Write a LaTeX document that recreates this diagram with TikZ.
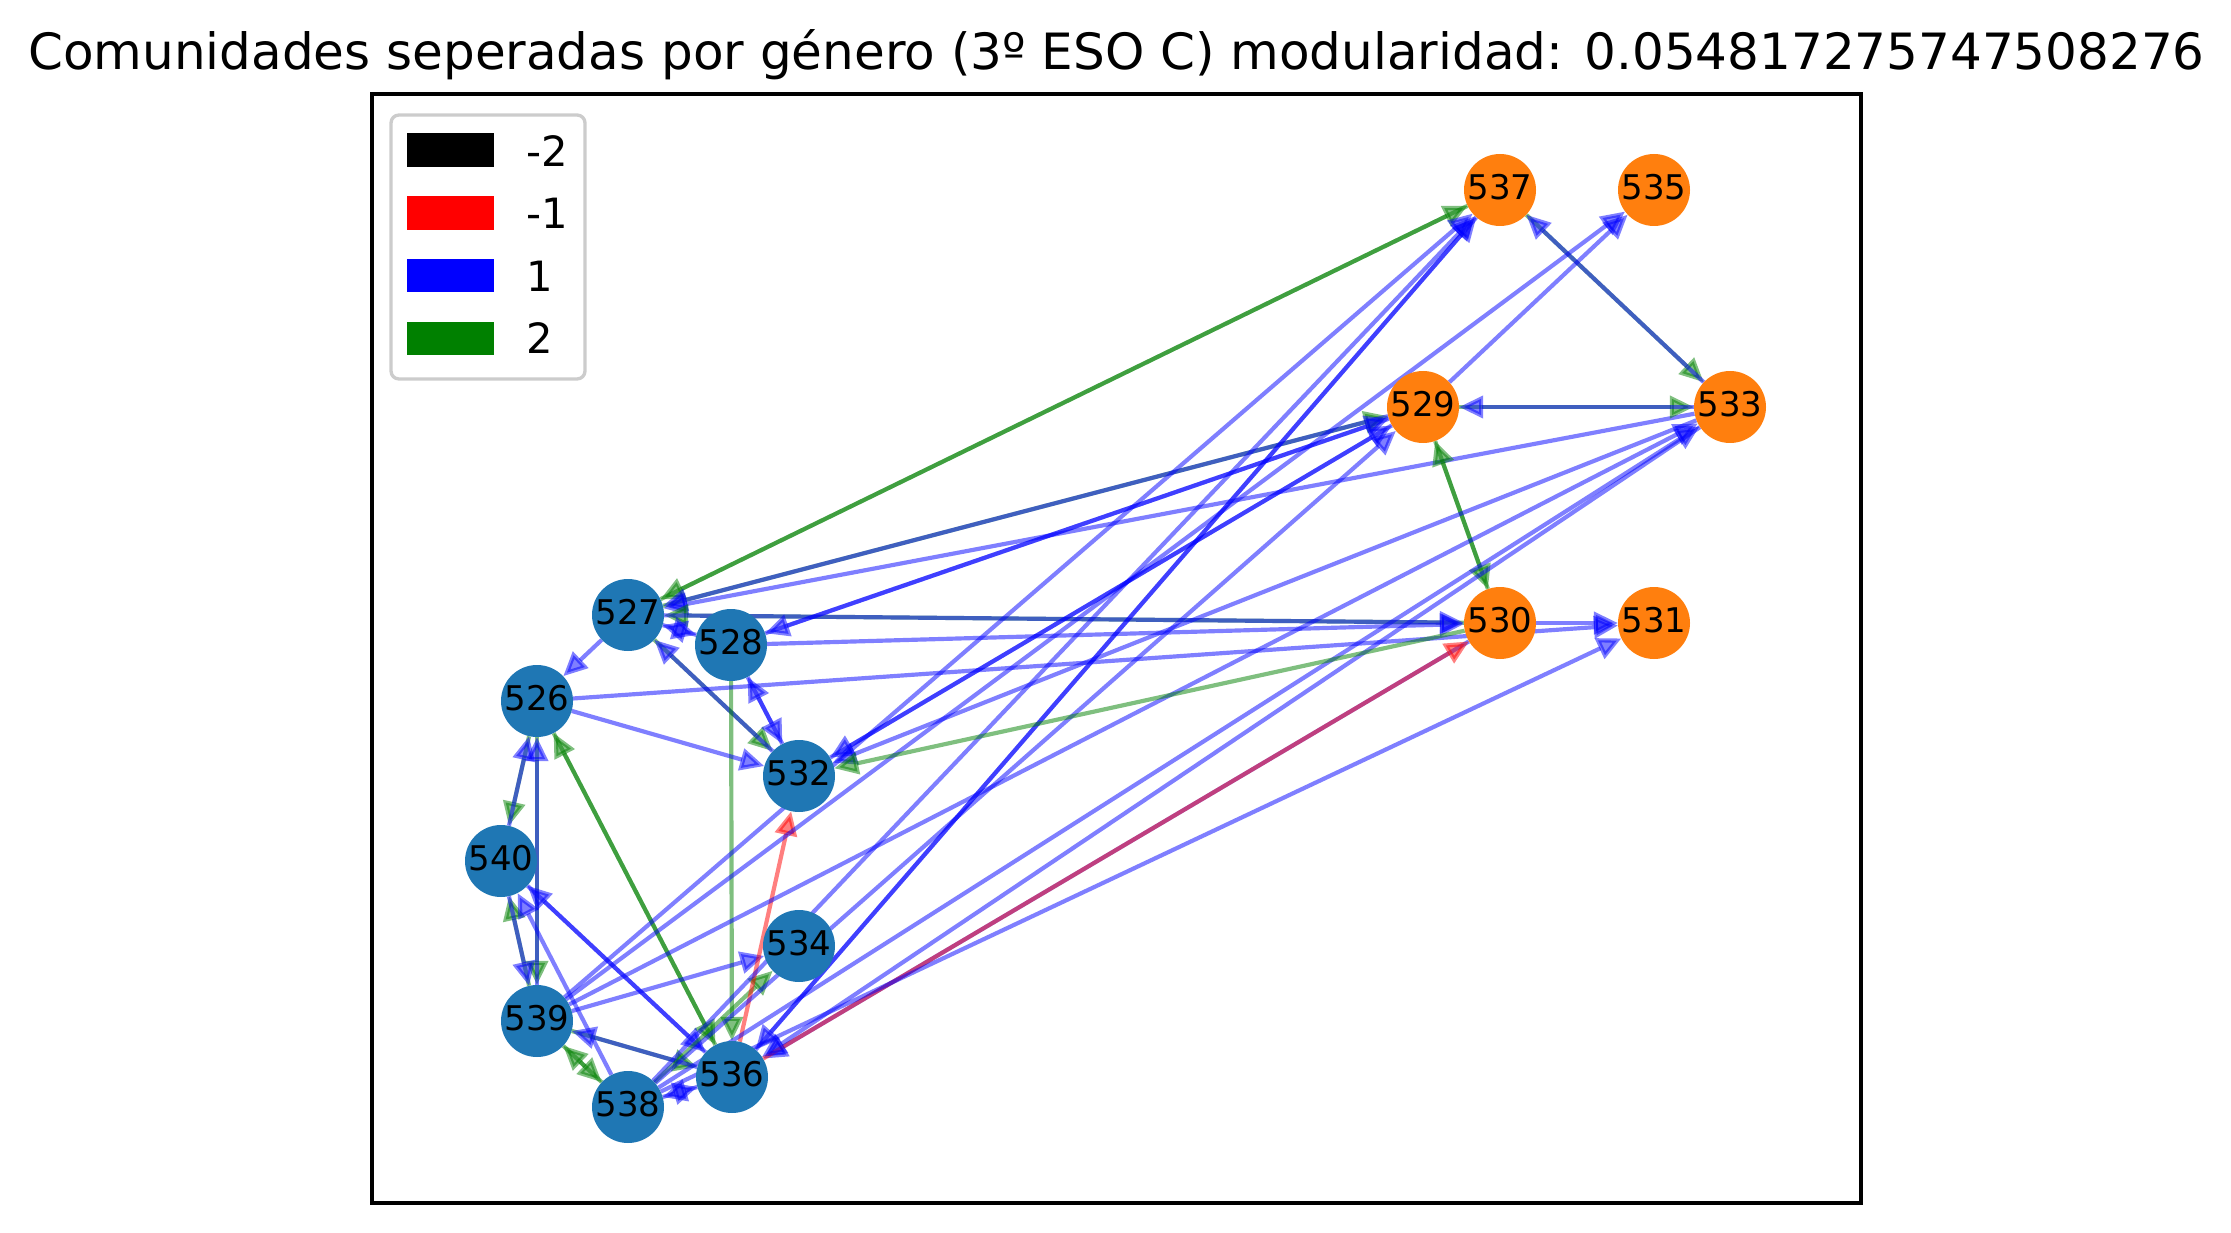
\documentclass[tikz,border=0pt]{standalone}
\usepackage{fontspec}
\setmainfont{DejaVu Sans}
\usetikzlibrary{arrows.meta}
\pgfdeclarelayer{edges}
\pgfsetlayers{edges,main}
\definecolor{nblue}{HTML}{1F77B4}
\definecolor{norange}{HTML}{FF7F0E}
\definecolor{eblue}{rgb}{0,0,1}
\definecolor{egreen}{rgb}{0,0.50196,0}
\definecolor{ered}{rgb}{1,0,0}
\definecolor{legframe}{gray}{0.8}
\tikzset{
  vtx/.style={circle, minimum size=72pt, inner sep=0pt, text depth=5.4pt, font=\fontsize{34}{40}\selectfont, text=black},
  vb/.style={vtx, fill=nblue},
  vo/.style={vtx, fill=norange},
  edg/.style={line width=4.17pt, opacity=0.5},
  eb/.style={edg, draw=eblue, -{Triangle[length=24pt,width=22pt,fill=eblue]}},
  eg/.style={edg, draw=egreen, -{Triangle[length=24pt,width=22pt,fill=egreen]}},
  er/.style={edg, draw=ered, -{Triangle[length=24pt,width=22pt,fill=ered]}},
  legtxt/.style={anchor=base west, inner sep=0pt, font=\fontsize{41.7}{50}\selectfont},
}
\begin{document}
\begin{tikzpicture}[x=1pt,y=-1pt]
\useasboundingbox (0,0) rectangle (2231,1233);
% title
\node[anchor=base, inner sep=0pt, font=\fontsize{50}{60}\selectfont] (title) at (1116.5,70) {Comunidades seperadas por género (3º ESO C) modularidad: 0.054817275747508276};
% axes frame
\draw[line width=3.33pt] (372,94) rectangle (1861,1203);
% nodes
\node[vb] (n527) at (628,615) {527};
\node[vb] (n528) at (731,645) {528};
\node[vb] (n526) at (537,701) {526};
\node[vb] (n532) at (799,776) {532};
\node[vb] (n540) at (501,861) {540};
\node[vb] (n539) at (537,1021) {539};
\node[vb] (n538) at (628,1107) {538};
\node[vb] (n536) at (732,1077) {536};
\node[vb] (n534) at (799,946) {534};
\node[vo] (n537) at (1500,190) {537};
\node[vo] (n535) at (1654,190) {535};
\node[vo] (n529) at (1423,407) {529};
\node[vo] (n533) at (1730,407) {533};
\node[vo] (n530) at (1500,623) {530};
\node[vo] (n531) at (1654,623) {531};
% edges
\begin{pgfonlayer}{edges}
\draw[eg] (n527) -- (n537);
\draw[eg] (n537) -- (n527);
\draw[eg] (n527) -- (n529);
\draw[eb] (n529) -- (n527);
\draw[eb] (n533) -- (n527);
\draw[eg] (n530) -- (n527);
\draw[eb] (n527) -- (n530);
\draw[eb] (n527) -- (n528);
\draw[eb] (n528) -- (n527);
\draw[eb] (n527) -- (n526);
\draw[eg] (n527) -- (n532);
\draw[eb] (n532) -- (n527);
\draw[eb] (n528) -- (n529);
\draw[eb] (n529) -- (n528);
\draw[eb] (n528) -- (n530);
\draw[eb] (n528) -- (n532);
\draw[eb] (n532) -- (n528);
\draw[eg] (n528) -- (n536);
\draw[eb] (n526) -- (n531);
\draw[eb] (n526) -- (n532);
\draw[eg] (n526) -- (n540);
\draw[eb] (n540) -- (n526);
\draw[eg] (n526) -- (n539);
\draw[eb] (n539) -- (n526);
\draw[eg] (n536) -- (n526);
\draw[eg] (n526) -- (n536);
\draw[eg] (n539) -- (n540);
\draw[eb] (n540) -- (n539);
\draw[eb] (n536) -- (n540);
\draw[eb] (n540) -- (n536);
\draw[eb] (n538) -- (n540);
\draw[eg] (n539) -- (n536);
\draw[eb] (n536) -- (n539);
\draw[eg] (n539) -- (n538);
\draw[eg] (n538) -- (n539);
\draw[eb] (n536) -- (n538);
\draw[eb] (n538) -- (n536);
\draw[eg] (n538) -- (n534);
\draw[eb] (n539) -- (n534);
\draw[er] (n536) -- (n532);
\draw[eb] (n530) -- (n536);
\draw[er] (n536) -- (n530);
\draw[eb] (n536) -- (n537);
\draw[eb] (n537) -- (n536);
\draw[eg] (n529) -- (n530);
\draw[eg] (n530) -- (n529);
\draw[eg] (n529) -- (n533);
\draw[eb] (n533) -- (n529);
\draw[eg] (n537) -- (n533);
\draw[eb] (n533) -- (n537);
\draw[eb] (n532) -- (n529);
\draw[eb] (n529) -- (n532);
\draw[eb] (n529) -- (n535);
\draw[eb] (n539) -- (n535);
\draw[eb] (n539) -- (n537);
\draw[eb] (n539) -- (n533);
\draw[eb] (n538) -- (n537);
\draw[eb] (n538) -- (n529);
\draw[eb] (n538) -- (n533);
\draw[eb] (n533) -- (n536);
\draw[eb] (n533) -- (n532);
\draw[eb] (n530) -- (n531);
\draw[eb] (n538) -- (n531);
\draw[eg] (n530) -- (n532);
\end{pgfonlayer}
% legend
\draw[rounded corners=8pt, draw=legframe, line width=3.33pt, fill=white] (391,115) rectangle (585,379);
\fill[black] (407,133) rectangle (494,167);
\fill[ered] (407,196) rectangle (494,230);
\fill[eblue] (407,259) rectangle (494,292);
\fill[egreen] (407,322) rectangle (494,355);
\node[legtxt] (lm2) at (526,167) {-2};
\node[legtxt] (lm1) at (526,229) {-1};
\node[legtxt] (lp1) at (526,292) {1};
\node[legtxt] (lp2) at (526,354) {2};
\end{tikzpicture}
\end{document}
